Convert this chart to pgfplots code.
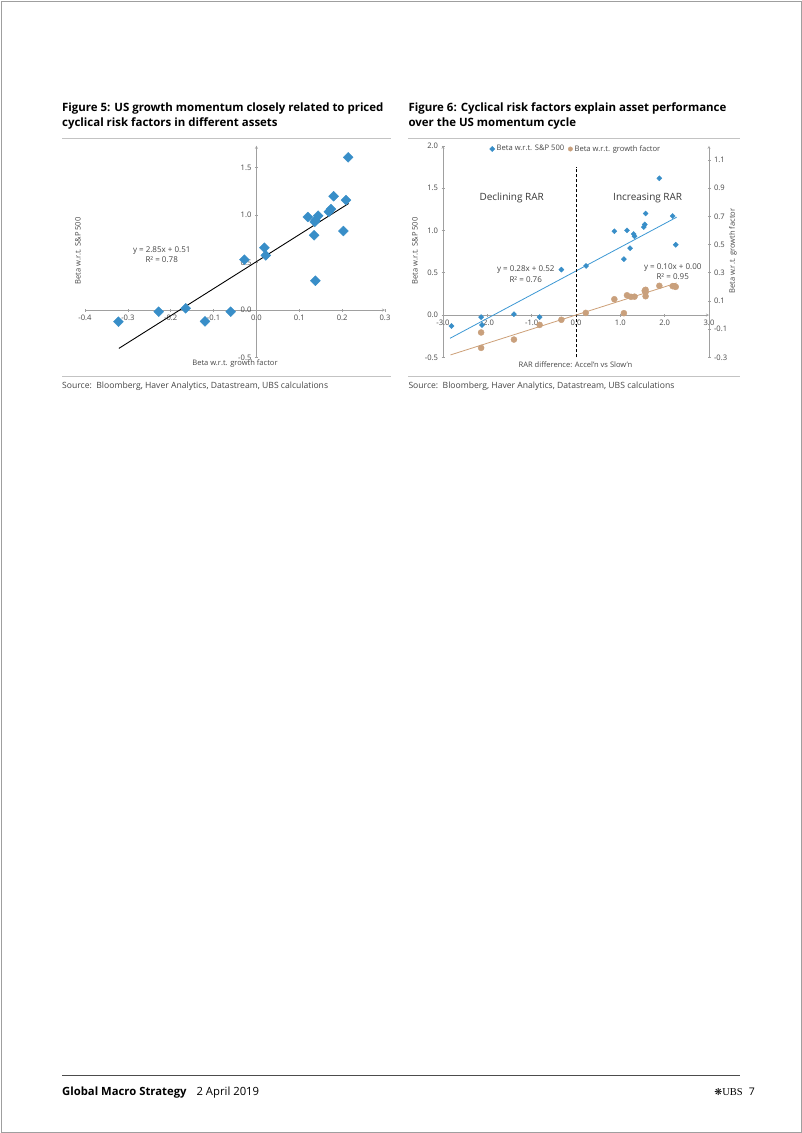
\documentclass[border=0pt]{standalone}
\usepackage{fontspec}
\setmainfont{Open Sans}
\newfontfamily\symfont{DejaVu Sans}
\newfontfamily\seriffont{Liberation Serif}
\usepackage{pgfplots}
\pgfplotsset{compat=1.18}
\definecolor{axgray}{RGB}{160,160,160}
\definecolor{txtgray}{RGB}{70,70,70}
\definecolor{bluem}{RGB}{56,142,200}
\definecolor{bluel}{RGB}{60,152,212}
\definecolor{orangem}{RGB}{201,160,124}
\definecolor{orangel}{RGB}{205,160,120}
\definecolor{rulegray}{RGB}{195,195,195}
\pgfplotsset{
  common/.style={
    scale only axis,
    axis line style={axgray,-},
    tick style={axgray, line width=0.6pt},
    tick align=outside,
    major tick length=3pt,
    ticklabel style={font=\fontsize{7.6}{8}\selectfont, text=txtgray},
    /pgf/number format/.cd, fixed, fixed zerofill, precision=1, assume math mode=true,
    /pgfplots/.cd,
    hide obscured x ticks=false, hide obscured y ticks=false,
    clip=false,
  }
}
\begin{document}
\begin{tikzpicture}[x=1pt,y=1pt]
\useasboundingbox (0,0) rectangle (802,-1133);
\fill[white] (0,0) rectangle (802,-1133);
\draw[gray!75, line width=1pt] (1,-1) rectangle (801,-1132);

% ---------- Figure 5 ----------
\node[anchor=base west, inner sep=0, font=\bfseries\fontsize{11.45}{13}\selectfont] at (62,-111.5) {Figure 5: US growth momentum closely related to priced};
\node[anchor=base west, inner sep=0, font=\bfseries\fontsize{11.45}{13}\selectfont] at (62,-126.5) {cyclical risk factors in different assets};
\draw[rulegray, line width=0.8pt] (62,-138.3) -- (391,-138.3);
\draw[rulegray, line width=0.8pt] (62,-376) -- (391,-376);
\node[anchor=base west, inner sep=0, font=\fontsize{8.6}{9}\selectfont, text=txtgray] at (62,-388) {Source:\ \ Bloomberg, Haver Analytics, Datastream, UBS calculations};

\begin{axis}[common,
  at={(85pt,-357.4pt)}, anchor=south west,
  width=300pt, height=211.7pt,
  xmin=-0.4, xmax=0.3, ymin=-0.5, ymax=1.733,
  axis lines=middle,
  xtick={-0.4,-0.3,-0.2,-0.1,0,0.1,0.2,0.3},
  ytick={-0.5,0,0.5,1,1.5},
]
\addplot[only marks, mark=square*, mark size=3.5pt, mark options={rotate=45, fill=bluem, draw=bluem}] coordinates {
(0.214,1.61) (0.180,1.20) (0.209,1.16) (0.174,1.065) (0.169,1.037)
(0.144,0.995) (0.120,0.981) (0.138,0.946) (0.136,0.93) (0.203,0.833)
(0.1345,0.788) (0.0187,0.657) (0.0218,0.577) (-0.028,0.531) (0.1375,0.309)
(-0.165,0.018) (-0.228,-0.018) (-0.060,-0.018) (-0.322,-0.123) (-0.120,-0.12)
};
\addplot[black, line width=0.9pt, no marks] coordinates {(-0.321,-0.405) (0.215,1.123)};
\end{axis}
\node[font=\fontsize{7.55}{8}\selectfont, text=txtgray, rotate=90] at (78,-251) {Beta w.r.t. S\&P 500};
\node[font=\fontsize{7.55}{8}\selectfont, text=txtgray] at (235,-363.5) {Beta w.r.t. growth factor};
\node[font=\fontsize{8}{9}\selectfont, text=txtgray] at (161.7,-251) {y = 2.85x + 0.51};
\node[font=\fontsize{8}{9}\selectfont, text=txtgray] at (161.7,-260) {R² = 0.78};

% ---------- Figure 6 ----------
\node[anchor=base west, inner sep=0, font=\bfseries\fontsize{11.45}{13}\selectfont] at (408.3,-111.5) {Figure 6: Cyclical risk factors explain asset performance};
\node[anchor=base west, inner sep=0, font=\bfseries\fontsize{11.45}{13}\selectfont] at (408.3,-126.5) {over the US momentum cycle};
\draw[rulegray, line width=0.8pt] (408,-138.3) -- (740,-138.3);
\draw[rulegray, line width=0.8pt] (408,-376) -- (740,-376);
\node[anchor=base west, inner sep=0, font=\fontsize{8.6}{9}\selectfont, text=txtgray] at (408.3,-388) {Source:\ \ Bloomberg, Haver Analytics, Datastream, UBS calculations};

\begin{axis}[common,
  at={(443pt,-357.3pt)}, anchor=south west,
  width=266pt, height=211.5pt,
  xmin=-3, xmax=3, ymin=-0.5, ymax=2,
  axis x line=middle, axis y line=left,
  xtick={-3,-2,-1,0,1,2,3},
  ytick={-0.5,0,0.5,1,1.5,2},
  legend style={at={(0.5,0.985)}, anchor=center, draw=none, fill=none,
    font=\fontsize{7.6}{8}\selectfont, text=txtgray, inner sep=0pt,
    /tikz/every even column/.append style={column sep=2pt}},
  legend columns=2, legend cell align=left,
  legend image code/.code={\draw[#1] plot coordinates {(0.12cm,0cm)};},
]
\addplot[only marks, mark=square*, mark size=1.8pt, mark options={rotate=45, fill=bluem, draw=bluem}] coordinates {
(1.88,1.616) (1.57,1.20) (2.18,1.17) (1.55,1.07) (1.53,1.04)
(1.15,1.00) (0.865,0.99) (1.30,0.957) (1.32,0.93) (2.25,0.83)
(1.22,0.79) (1.08,0.66) (0.226,0.58) (-0.33,0.536) (-1.40,0.01)
(-2.14,-0.025) (-0.82,-0.025) (-2.81,-0.13) (-2.12,-0.118)
};
\addlegendentry{Beta w.r.t. S\&P 500}
\addlegendimage{only marks, mark=*, mark size=2.2pt, mark options={fill=orangem, draw=orangem}}
\addlegendentry{Beta w.r.t. growth factor}
\addplot[bluel, line width=0.8pt, no marks, forget plot] coordinates {(-2.84,-0.275) (2.27,1.156)};
\addplot[black, line width=0.8pt, dash pattern=on 3pt off 2pt, forget plot] coordinates {(0,-0.5) (0,1.75)};
\end{axis}

\begin{axis}[common,
  at={(443pt,-357.3pt)}, anchor=south west,
  width=266pt, height=211.5pt,
  xmin=-3, xmax=3, ymin=-0.3, ymax=1.2,
  axis y line=right, axis x line=none,
  ytick={-0.3,-0.1,0.1,0.3,0.5,0.7,0.9,1.1},
]
\addplot[only marks, mark=*, mark size=3pt, mark options={fill=orangem, draw=orangem}] coordinates {
(1.88,0.207) (2.18,0.205) (2.22,0.203) (2.25,0.20) (1.57,0.179) (1.57,0.162) (1.57,0.133) (1.55,0.172)
(1.15,0.14) (1.24,0.129) (1.32,0.13) (0.865,0.112) (1.08,0.013) (0.22,0.015)
(-0.33,-0.034) (-0.82,-0.07) (-2.14,-0.124) (-1.40,-0.174) (-2.14,-0.233)
};
\addplot[orangel, line width=0.8pt, no marks] coordinates {(-2.83,-0.283) (2.27,0.227)};
\end{axis}
\node[font=\fontsize{7.55}{8}\selectfont, text=txtgray, rotate=90] at (415,-251) {Beta w.r.t. S\&P 500};
\node[font=\fontsize{7.55}{8}\selectfont, text=txtgray, rotate=90] at (733,-251) {Beta w.r.t. growth factor};
\node[font=\fontsize{7.55}{8}\selectfont, text=txtgray] at (575.5,-364.5) {RAR difference: Accel'n vs Slow'n};
\node[font=\fontsize{10}{12}\selectfont, text=txtgray!80!black] at (511.7,-198.3) {Declining RAR};
\node[font=\fontsize{10}{12}\selectfont, text=txtgray!80!black] at (647.7,-198.3) {Increasing RAR};
\node[font=\fontsize{8}{9}\selectfont, text=txtgray] at (525.7,-269.7) {y = 0.28x + 0.52};
\node[font=\fontsize{8}{9}\selectfont, text=txtgray] at (525.7,-279.3) {R² = 0.76};
\node[font=\fontsize{8}{9}\selectfont, text=txtgray] at (672.7,-267.7) {y = 0.10x + 0.00};
\node[font=\fontsize{8}{9}\selectfont, text=txtgray] at (672.7,-276.7) {R² = 0.95};

% ---------- Footer ----------
\draw[gray!60!black, line width=1pt] (62,-1075.7) -- (740,-1075.7);
\node[anchor=base west, inner sep=0, font=\fontsize{11.3}{12}\selectfont] at (62,-1095.5) {\textbf{Global Macro Strategy}\hspace{10pt}2 April 2019};
\node[anchor=base east, inner sep=0, font=\fontsize{10.5}{12}\selectfont] at (755,-1095.5) {{\symfont\fontsize{9.5}{10}\selectfont ❋}{\seriffont UBS}\hspace{6pt}7};
\end{tikzpicture}
\end{document}
